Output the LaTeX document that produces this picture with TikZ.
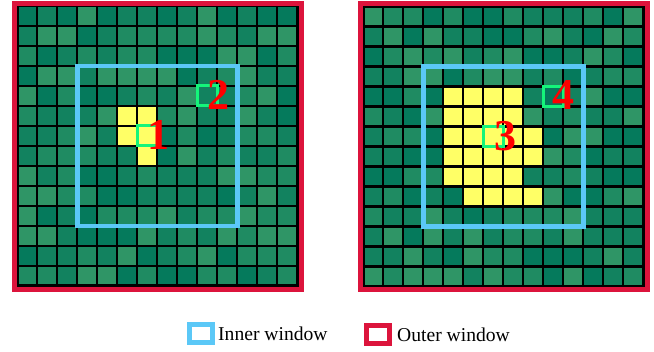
\documentclass[tikz,border=0pt]{standalone}
\usepackage{fontspec}
\setmainfont{Liberation Serif}
\usetikzlibrary{positioning}
\definecolor{gwRed}{HTML}{DC143C}
\definecolor{gwBlue}{HTML}{5BC8F7}
\definecolor{gwYellow}{HTML}{FFFF66}
\definecolor{gwMark}{HTML}{14F57A}
\definecolor{gwDigit}{HTML}{FF0000}
\definecolor{gwGa}{HTML}{057A5C}
\definecolor{gwGb}{HTML}{12825F}
\definecolor{gwGc}{HTML}{1F8B62}
\definecolor{gwGd}{HTML}{2F9566}
\tikzset{
  outerwin/.style={draw=gwRed, line width=5pt},
  innerwin/.style={draw=gwBlue, line width=4.5pt},
  cellgrid/.style={draw=black, line width=2.2pt},
  pix/.style={draw=gwMark, line width=3pt, minimum size=20pt, inner sep=0pt},
  lbl/.style={text=gwDigit, font=\fontsize{44}{44}\selectfont\bfseries, inner sep=0pt},
  legbox/.style={minimum width=23pt, minimum height=18pt, line width=5pt, inner sep=0pt},
  legtxt/.style={font=\fontsize{19.6}{20}\selectfont, inner sep=0pt},
}

\begin{document}
\begin{tikzpicture}[x=1pt, y=-1pt]
  \useasboundingbox (0,0) rectangle (654,352);
  \pgfmathsetseed{4}
  \pgfmathdeclarerandomlist{greens}{{gwGa}{gwGb}{gwGc}{gwGd}}
  % left: small target
  \begin{scope}[shift={(17.3,6)}]
    \foreach \c in {0,...,13}
      \foreach \r in {0,...,13}{
        \pgfmathrandomitem{\cellcol}{greens}
        \fill[\cellcol] (20*\c,20*\r) rectangle ++(20,20);
      }
    \foreach \c/\r in {5/5,6/5,5/6,6/6,6/7}
      \fill[gwYellow] (20*\c,20*\r) rectangle ++(20,20);
    \foreach \k in {1,...,13}{
      \draw[cellgrid] (20*\k,0) -- (20*\k,280);
      \draw[cellgrid] (0,20*\k) -- (280,20*\k);
    }
    \draw[cellgrid, line width=3pt] (0,0) rectangle (280,280);
    \draw[innerwin] (60,60) rectangle (220,220);
    \draw[outerwin] (-2.5,-2) rectangle (284,284);
    \node[pix] (p1) at (130,130) {};
    \node[pix] (p2) at (190,90) {};
    \node[lbl] (d1) at ([xshift=11pt,yshift=1pt]p1.center) {1};
    \node[lbl] (d2) at ([xshift=11pt,yshift=1pt]p2.center) {2};
  \end{scope}
  % right: large target
  \begin{scope}[shift={(363.3,6.5)}]
    \foreach \c in {0,...,13}
      \foreach \r in {0,...,13}{
        \pgfmathrandomitem{\cellcol}{greens}
        \fill[\cellcol] (20*\c,20*\r) rectangle ++(20,20);
      }
    \foreach \c/\r in {4/4,5/4,6/4,7/4, 4/5,5/5,6/5,7/5,
                       4/6,5/6,6/6,7/6,8/6, 4/7,5/7,6/7,7/7,8/7,
                       4/8,5/8,6/8,7/8, 5/9,6/9,7/9,8/9}
      \fill[gwYellow] (20*\c,20*\r) rectangle ++(20,20);
    \foreach \k in {1,...,13}{
      \draw[cellgrid] (20*\k,0) -- (20*\k,280);
      \draw[cellgrid] (0,20*\k) -- (280,20*\k);
    }
    \draw[cellgrid, line width=3pt] (0,0) rectangle (280,280);
    \draw[innerwin] (60,60) rectangle (220,220);
    \draw[outerwin] (-2.5,-2.5) rectangle (284.5,283.5);
    \node[pix] (p3) at (130,130) {};
    \node[pix] (p4) at (190,90) {};
    \node[lbl] (d3) at ([xshift=12pt,yshift=0pt]p3.center) {3};
    \node[lbl] (d4) at ([xshift=10pt,yshift=1pt]p4.center) {4};
  \end{scope}
  % legend
  \node[legbox, draw=gwBlue] (kin) at (201,334) {};
  \node[legtxt, right=3pt of kin] (tin) {Inner window};
  \node[legbox, draw=gwRed] (kout) at (378,334.5) {};
  \node[legtxt, right=5pt of kout] (tout) {Outer window};
\end{tikzpicture}
\end{document}
